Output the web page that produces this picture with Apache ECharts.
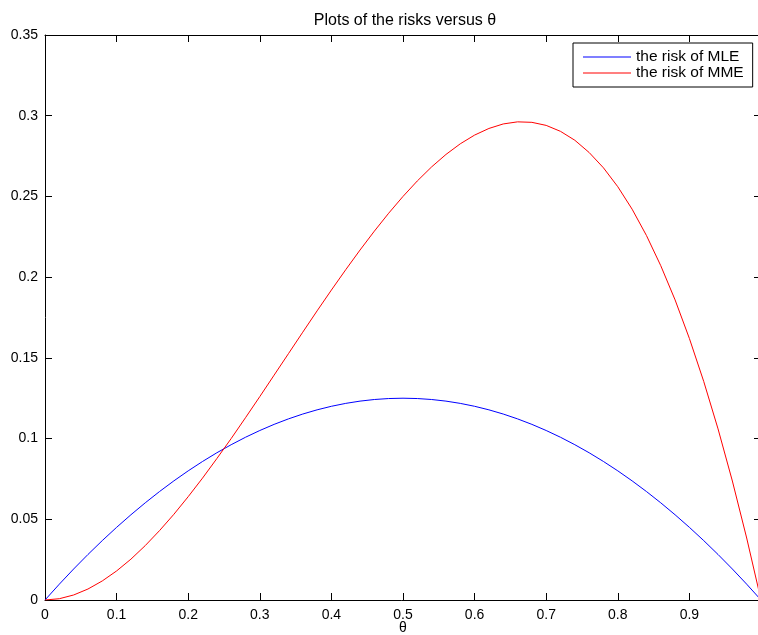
<!DOCTYPE html>
<html>
<head>
<meta charset="utf-8">
<title>risks versus theta</title>
<script src="https://cdn.jsdelivr.net/npm/echarts@6/dist/echarts.min.js"></script>
<style>
  html, body { margin: 0; padding: 0; background: #fff; }
  #chart { width: 758px; height: 635px; }
</style>
</head>
<body>
<div id="chart"></div>
<script>
// theta sample points
const theta = [0, 0.02, 0.04, 0.06, 0.08, 0.1, 0.12, 0.14, 0.16, 0.18,
  0.2, 0.22, 0.24, 0.26, 0.28, 0.3, 0.32, 0.34, 0.36, 0.38,
  0.4, 0.42, 0.44, 0.46, 0.48, 0.5, 0.52, 0.54, 0.56, 0.58,
  0.6, 0.62, 0.64, 0.66, 0.68, 0.7, 0.72, 0.74, 0.76, 0.78,
  0.8, 0.82, 0.84, 0.86, 0.88, 0.9, 0.92, 0.94, 0.96, 0.98, 1]

// risk of MLE (blue)
const riskMLE = [0, 0.0098, 0.0192, 0.0282, 0.0368, 0.045, 0.0528, 0.0602, 0.0672, 0.0738,
  0.08, 0.0858, 0.0912, 0.0962, 0.1008, 0.105, 0.1088, 0.1122, 0.1152, 0.1178,
  0.12, 0.1218, 0.1232, 0.1242, 0.1248, 0.125, 0.1248, 0.1242, 0.1232, 0.1218,
  0.12, 0.1178, 0.1152, 0.1122, 0.1088, 0.105, 0.1008, 0.0962, 0.0912, 0.0858,
  0.08, 0.0738, 0.0672, 0.0602, 0.0528, 0.045, 0.0368, 0.0282, 0.0192, 0.0098, 0]

// risk of MME (red)
const riskMME = [0, 0.0008, 0.0031, 0.0068, 0.0118, 0.018, 0.0253, 0.0337, 0.043, 0.0531,
  0.064, 0.0755, 0.0876, 0.1, 0.1129, 0.126, 0.1393, 0.1526, 0.1659, 0.1791,
  0.192, 0.2046, 0.2168, 0.2285, 0.2396, 0.25, 0.2596, 0.2683, 0.276, 0.2826,
  0.288, 0.2921, 0.2949, 0.2962, 0.2959, 0.294, 0.2903, 0.2848, 0.2772, 0.2677,
  0.256, 0.2421, 0.2258, 0.2071, 0.1859, 0.162, 0.1354, 0.106, 0.0737, 0.0384, 0]

const seriesNames = ["the risk of MLE", "the risk of MME"]

const font = "'Liberation Sans', Arial, Helvetica, sans-serif"

function pairs(ys) {
  return theta.map((t, i) => [t, ys[i]])
}

const chart = echarts.init(document.getElementById("chart"), null, { renderer: "canvas" })

const axisCommon = {
  type: "value",
  axisLine: { show: true, onZero: false, lineStyle: { color: "#000", width: 1 } },
  axisTick: { show: true, inside: true, length: 7, lineStyle: { color: "#000" } },
  splitLine: { show: false },
}

chart.setOption({
  backgroundColor: "#fff",
  animation: false,
  title: {
    text: "Plots of the risks versus θ",
    left: 400,
    top: 8,
    textAlign: "center",
    textStyle: { fontFamily: font, fontSize: 16, fontWeight: "normal", color: "#000" },
  },
  legend: {
    orient: "vertical",
    left: 573,
    top: 43,
    padding: [6, 9, 6, 10],
    itemGap: 0,
    itemWidth: 48,
    itemHeight: 1,
    icon: "rect",
    borderColor: "#000",
    borderWidth: 1,
    backgroundColor: "#fff",
    textStyle: { fontFamily: font, fontSize: 15.5, lineHeight: 16, color: "#000" },
    data: seriesNames,
  },
  // plot box runs past the right edge of the picture, as in the reference
  grid: { left: 45, top: 35, width: 716, height: 565, containLabel: false, outerBoundsMode: "none" },
  xAxis: [
    Object.assign({}, axisCommon, {
      position: "bottom",
      min: 0,
      max: 1,
      interval: 0.1,
      name: "θ",
      nameLocation: "middle",
      nameGap: 21,
      nameMoveOverlap: false,
      nameTextStyle: { fontFamily: font, fontSize: 14, color: "#000", verticalAlign: "top" },
      axisLabel: { fontFamily: font, fontSize: 14, color: "#000", margin: 8 },
    }),
    Object.assign({}, axisCommon, {
      position: "top",
      min: 0,
      max: 1,
      interval: 0.1,
      axisLabel: { show: false },
    }),
  ],
  yAxis: [
    Object.assign({}, axisCommon, {
      position: "left",
      min: 0,
      max: 0.35,
      interval: 0.05,
      axisLabel: { fontFamily: font, fontSize: 14, color: "#000", margin: 7 },
    }),
    Object.assign({}, axisCommon, {
      position: "right",
      min: 0,
      max: 0.35,
      interval: 0.05,
      axisLabel: { show: false },
    }),
  ],
  series: [
    {
      name: seriesNames[0],
      type: "line",
      xAxisIndex: 0,
      yAxisIndex: 0,
      data: pairs(riskMLE),
      showSymbol: false,
      symbol: "none",
      lineStyle: { color: "#0000ff", width: 1 },
      itemStyle: { color: "#0000ff" },
    },
    {
      name: seriesNames[1],
      type: "line",
      xAxisIndex: 0,
      yAxisIndex: 0,
      data: pairs(riskMME),
      showSymbol: false,
      symbol: "none",
      lineStyle: { color: "#ff0000", width: 1 },
      itemStyle: { color: "#ff0000" },
    },
  ],
})
</script>
</body>
</html>
